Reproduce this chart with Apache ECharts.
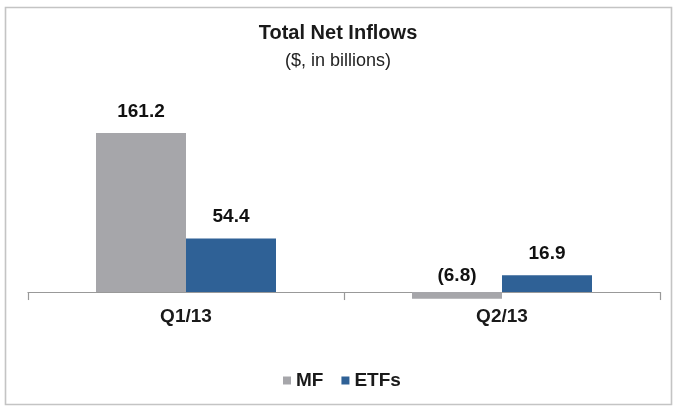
<!DOCTYPE html>
<html>
<head>
<meta charset="utf-8">
<script src="https://cdn.jsdelivr.net/npm/echarts@6/dist/echarts.min.js"></script>
<style>
html,body{margin:0;padding:0;background:#fff;}
#chart{width:676px;height:409px;}
</style>
</head>
<body>
<div id="chart"></div>
<script>
var categories = ['Q1/13', 'Q2/13'];
var seriesNames = ['MF', 'ETFs'];
var mfValues = [161.2, -6.8];
var etfValues = [54.4, 16.9];
var titleText = 'Total Net Inflows';
var subtitleText = '($, in billions)';

var FONT = '"Liberation Sans", Arial, sans-serif';
var chart = echarts.init(document.getElementById('chart'), null, {renderer: 'canvas'});

function fmt(p) {
  var v = p.value;
  return v < 0 ? '(' + Math.abs(v).toFixed(1) + ')' : v.toFixed(1);
}

var labelStyle = {
  show: true, position: 'top', distance: 12,
  fontFamily: FONT, fontWeight: 'bold', fontSize: 19, color: '#111',
  formatter: fmt
};

function buildData(arr) {
  return arr.map(function (v) {
    if (v < 0) return {value: v, label: {distance: 7}};
    return v;
  });
}

chart.setOption({
  animation: false,
  backgroundColor: '#fff',
  graphic: [{
    type: 'rect',
    shape: {x: 5.5, y: 7.5, width: 666, height: 397},
    style: {fill: 'none', stroke: '#c4c4c4', lineWidth: 1.6},
    silent: true
  }],
  title: {
    text: titleText,
    subtext: subtitleText,
    left: 'center',
    top: 18,
    itemGap: 9,
    textStyle: {fontFamily: FONT, fontWeight: 'bold', fontSize: 20, color: '#1a1a1a'},
    subtextStyle: {fontFamily: FONT, fontWeight: 'normal', fontSize: 18, color: '#222'}
  },
  legend: {
    data: seriesNames,
    left: 278,
    top: 366,
    icon: 'rect',
    itemWidth: 8,
    itemHeight: 8,
    itemGap: 18,
    textStyle: {fontFamily: FONT, fontWeight: 'bold', fontSize: 19, color: '#1a1a1a'}
  },
  grid: {left: 28, right: 16, top: 124.4, height: 177.5, containLabel: false},
  xAxis: {
    type: 'category',
    data: categories,
    axisLine: {onZero: true, lineStyle: {color: '#999', width: 1.2}},
    axisTick: {show: true, alignWithLabel: false, length: 8, lineStyle: {color: '#999', width: 1.2}},
    axisLabel: {margin: 5, fontFamily: FONT, fontWeight: 'bold', fontSize: 19, color: '#1a1a1a'}
  },
  yAxis: {
    type: 'value',
    min: -10, max: 170,
    show: false,
    splitLine: {show: false}
  },
  series: [{
    name: seriesNames[0],
    type: 'bar',
    data: buildData(mfValues),
    barWidth: 90,
    barGap: '0%',
    itemStyle: {color: '#a6a6aa'},
    label: labelStyle
  }, {
    name: seriesNames[1],
    type: 'bar',
    data: buildData(etfValues),
    barWidth: 90,
    barGap: '0%',
    itemStyle: {color: '#2f6196'},
    label: labelStyle
  }]
});
</script>
</body>
</html>
